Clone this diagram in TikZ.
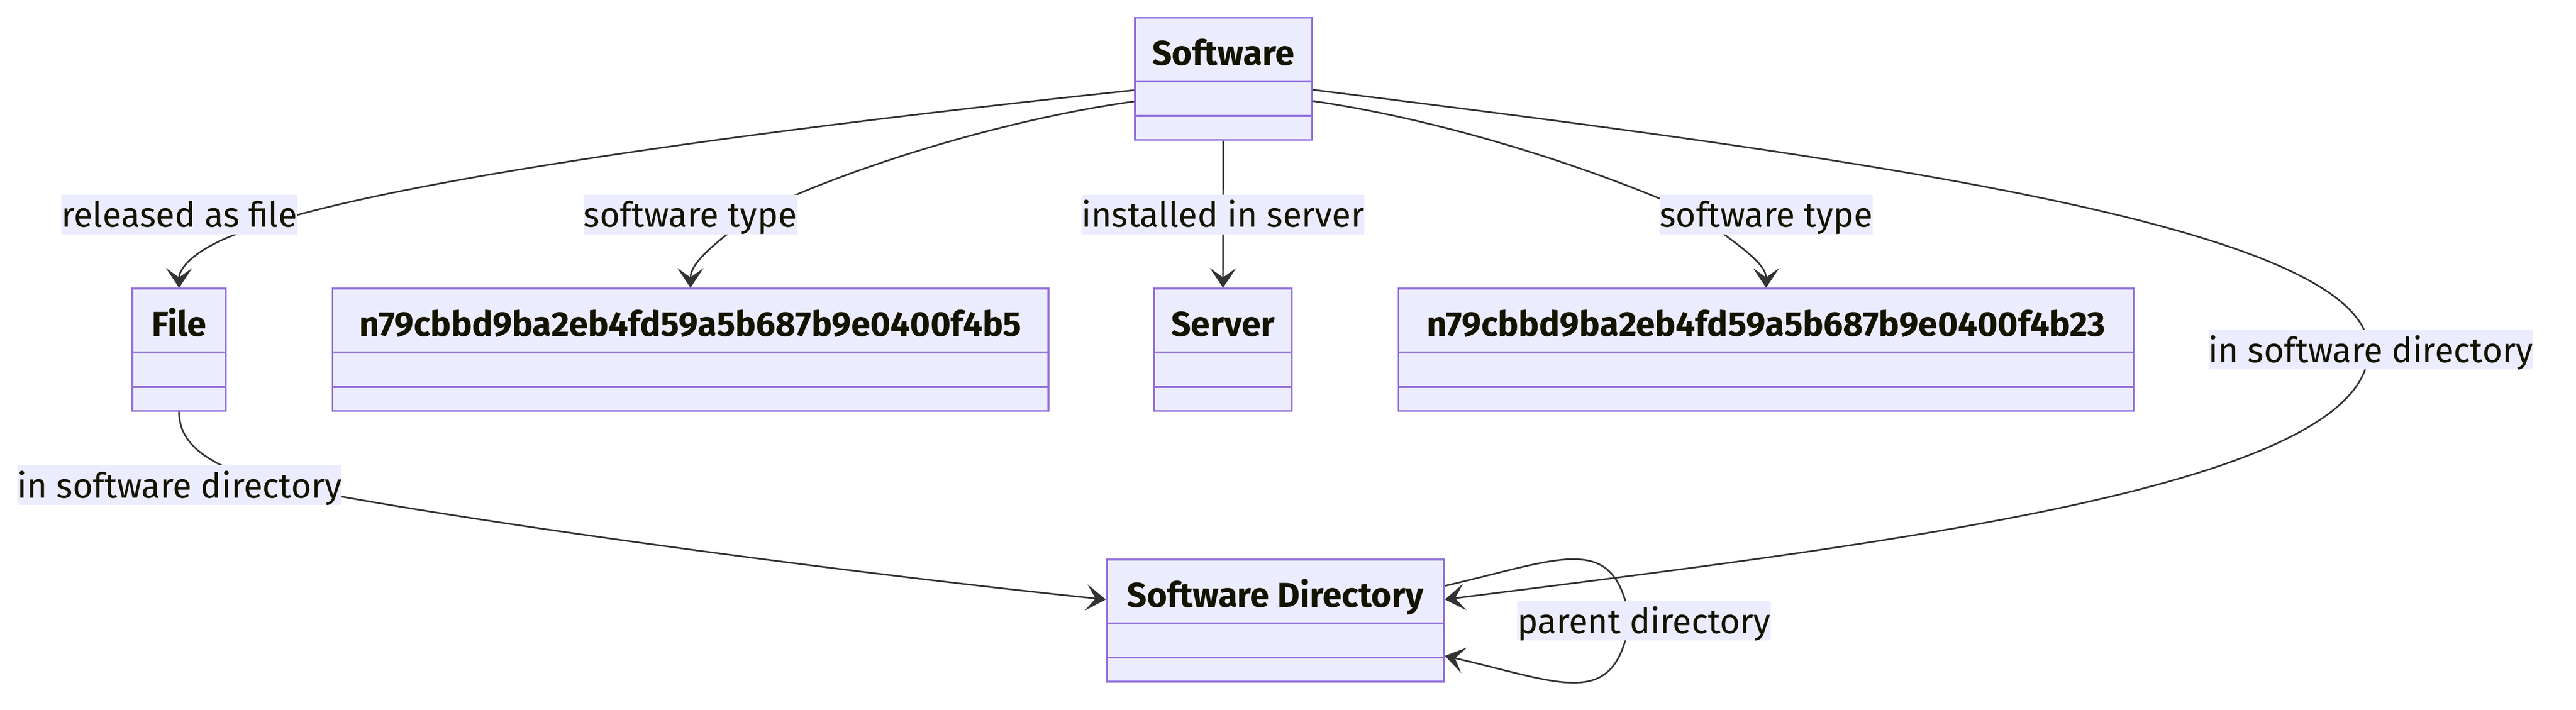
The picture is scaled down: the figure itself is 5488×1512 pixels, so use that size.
\documentclass[tikz,border=0pt]{standalone}
\usepackage{fontspec}
\setmainfont{Fira Sans}
\usepackage{xcolor}
\usepackage{tikz}
\usetikzlibrary{shapes.multipart, arrows.meta, positioning}
\definecolor{boxfill}{HTML}{ECECFF}
\definecolor{boxline}{HTML}{9370DB}
\definecolor{edgeline}{HTML}{333333}
\definecolor{ink}{HTML}{131300}
\tikzstyle{arrow} = [line width=0.035cm, draw=edgeline, -{Stealth[length=0.42cm, width=0.56cm, inset=0.2cm]}]
\tikzstyle{cls} = [rectangle split, rectangle split parts=3, draw=boxline, fill=boxfill, line width=0.04cm, inner sep=0pt, anchor=north, text=ink, font=\fontsize{21}{25}\selectfont\bfseries]
\tikzstyle{lbl} = [fill=boxfill, inner sep=0pt, text height=0.69cm, text depth=0.15cm, text=ink, font=\fontsize{21}{25}\selectfont]
\newcommand{\clsparts}[1]{\rule[-0.33cm]{0pt}{1.32cm}#1\nodepart{two}\rule{0pt}{0.69cm}\nodepart{three}\rule{0pt}{0.47cm}}

\begin{document}
\begin{tikzpicture}[x=0.01cm, y=-0.01cm]
    \useasboundingbox (0,0) rectangle (5488,1512);

    \node (sw) [cls, minimum width=3.76cm] at (2606,36) {\clsparts{Software}};
    \node (file) [cls, minimum width=1.99cm] at (381.5,613) {\clsparts{File}};
    \node (typea) [cls, minimum width=15.24cm] at (1471,613) {\clsparts{n79cbbd9ba2eb4fd59a5b687b9e0400f4b5}};
    \node (srv) [cls, minimum width=2.93cm] at (2605.5,613) {\clsparts{Server}};
    \node (typeb) [cls, minimum width=15.65cm] at (3762.5,613) {\clsparts{n79cbbd9ba2eb4fd59a5b687b9e0400f4b23}};
    \node (dir) [cls, minimum width=7.18cm] at (2717,1190) {\clsparts{Software Directory}};

    % edges first, labels go on top
    \draw [arrow] ([yshift=-0.24cm]sw.west) .. controls (1400,300) and (800,400) .. (560,480) .. controls (420,520) and (381.5,570) .. (file.north);
    \draw [arrow] ([yshift=-0.48cm]sw.west) .. controls (2100,260) and (1750,380) .. (1600,460) .. controls (1520,520) and (1471,560) .. (typea.north);
    \draw [arrow] (sw.south) -- (srv.north);
    \draw [arrow] ([yshift=-0.47cm]sw.east) .. controls (3110,260) and (3450,380) .. (3620,460) .. controls (3700,520) and (3762.5,560) .. (typeb.north);
    \draw [arrow] ([yshift=-0.23cm]sw.east) .. controls (3950,335) and (5046,480) .. (5046,745) .. controls (5046,1040) and (4000,1160) .. ([yshift=0.45cm]dir.east);
    \draw [arrow] (file.south) .. controls (381.5,940) and (430,985) .. (560,1025) .. controls (900,1100) and (1800,1220) .. ([yshift=0.45cm]dir.west);
    \draw [arrow] ([yshift=0.74cm]dir.east) .. controls (3330,1190) and (3440,1130) .. (3472,1322) .. controls (3440,1515) and (3330,1455) .. ([yshift=-0.75cm]dir.east);

    \node (lfile) [lbl] at (382,457) {released as file};
    \node (ltypea) [lbl] at (1470.5,457) {software type};
    \node (lsrv) [lbl] at (2605.5,457) {installed in server};
    \node (ltypeb) [lbl] at (3763,457) {software type};
    \node (ldirr) [lbl] at (5050.5,745) {in software directory};
    \node (ldirl) [lbl] at (382.5,1033.5) {in software directory};
    \node (lpar) [lbl] at (3502.5,1322.5) {parent directory};
\end{tikzpicture}
\end{document}
